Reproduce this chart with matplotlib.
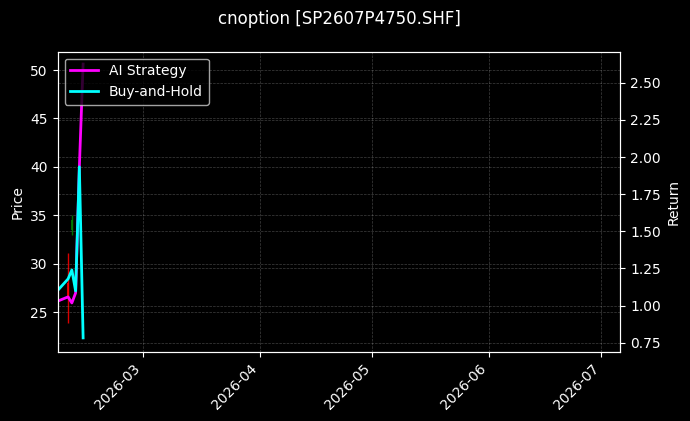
import matplotlib
matplotlib.use("Agg")
import matplotlib.pyplot as plt
import matplotlib.dates as mdates
import pandas as pd
from datetime import datetime

# ---- data ----
dates = ["2026-02-06", "2026-02-09", "2026-02-10", "2026-02-11", "2026-02-12", "2026-02-13"]
ai_strategy = [1.028, 1.059, 1.018, 1.085, 1.934, 2.626]
buy_hold = [1.096, 1.180, 1.240, 1.099, 1.934, 0.783]

candle_dates = ["2026-02-09", "2026-02-10"]
c_open = [28.0, 33.5]
c_close = [26.5, 34.5]
c_high = [31.1, 35.0]
c_low = [23.9, 33.0]

title = "cnoption [SP2607P4750.SHF]"

# ---- plot ----
plt.style.use("dark_background")
fig = plt.figure(figsize=(6.9, 4.21), dpi=100)
ax = fig.add_axes([0.0835, 0.1646, 0.8155, 0.7126])

d = pd.to_datetime(dates)
cd = pd.to_datetime(candle_dates)
colors = ["red" if c < o else "green" for o, c in zip(c_open, c_close)]
ax.vlines(cd, c_low, c_high, colors=colors, linewidth=1.0, alpha=0.85)
ax.vlines(cd, [min(o, c) for o, c in zip(c_open, c_close)],
          [max(o, c) for o, c in zip(c_open, c_close)],
          colors=colors, linewidth=1.5, alpha=0.85)

ax.set_ylabel("Price")
ax.set_ylim(20.93, 51.89)
ax.set_xlim(datetime(2026, 2, 6, 5), datetime(2026, 7, 6, 1))
ax.grid(True, linestyle="--", linewidth=0.5, alpha=0.25)

ax2 = ax.twinx()
ax2.plot(d, ai_strategy, color="#ff00ff", linewidth=2, label="AI Strategy")
ax2.plot(d, buy_hold, color="#00ffff", linewidth=2, label="Buy-and-Hold")
ax2.set_ylabel("Return")
ax2.set_ylim(0.69, 2.709)
ax2.grid(True, linestyle="--", linewidth=0.5, alpha=0.25)
ax2.legend(loc="upper left")

ax.xaxis.set_major_locator(mdates.MonthLocator())
ax.xaxis.set_major_formatter(mdates.DateFormatter("%Y-%m"))
for lbl in ax.get_xticklabels():
    lbl.set_rotation(45)
    lbl.set_ha("right")

ax.set_title(title, pad=20, fontsize=12)

fig.savefig("out.png", dpi=100)
